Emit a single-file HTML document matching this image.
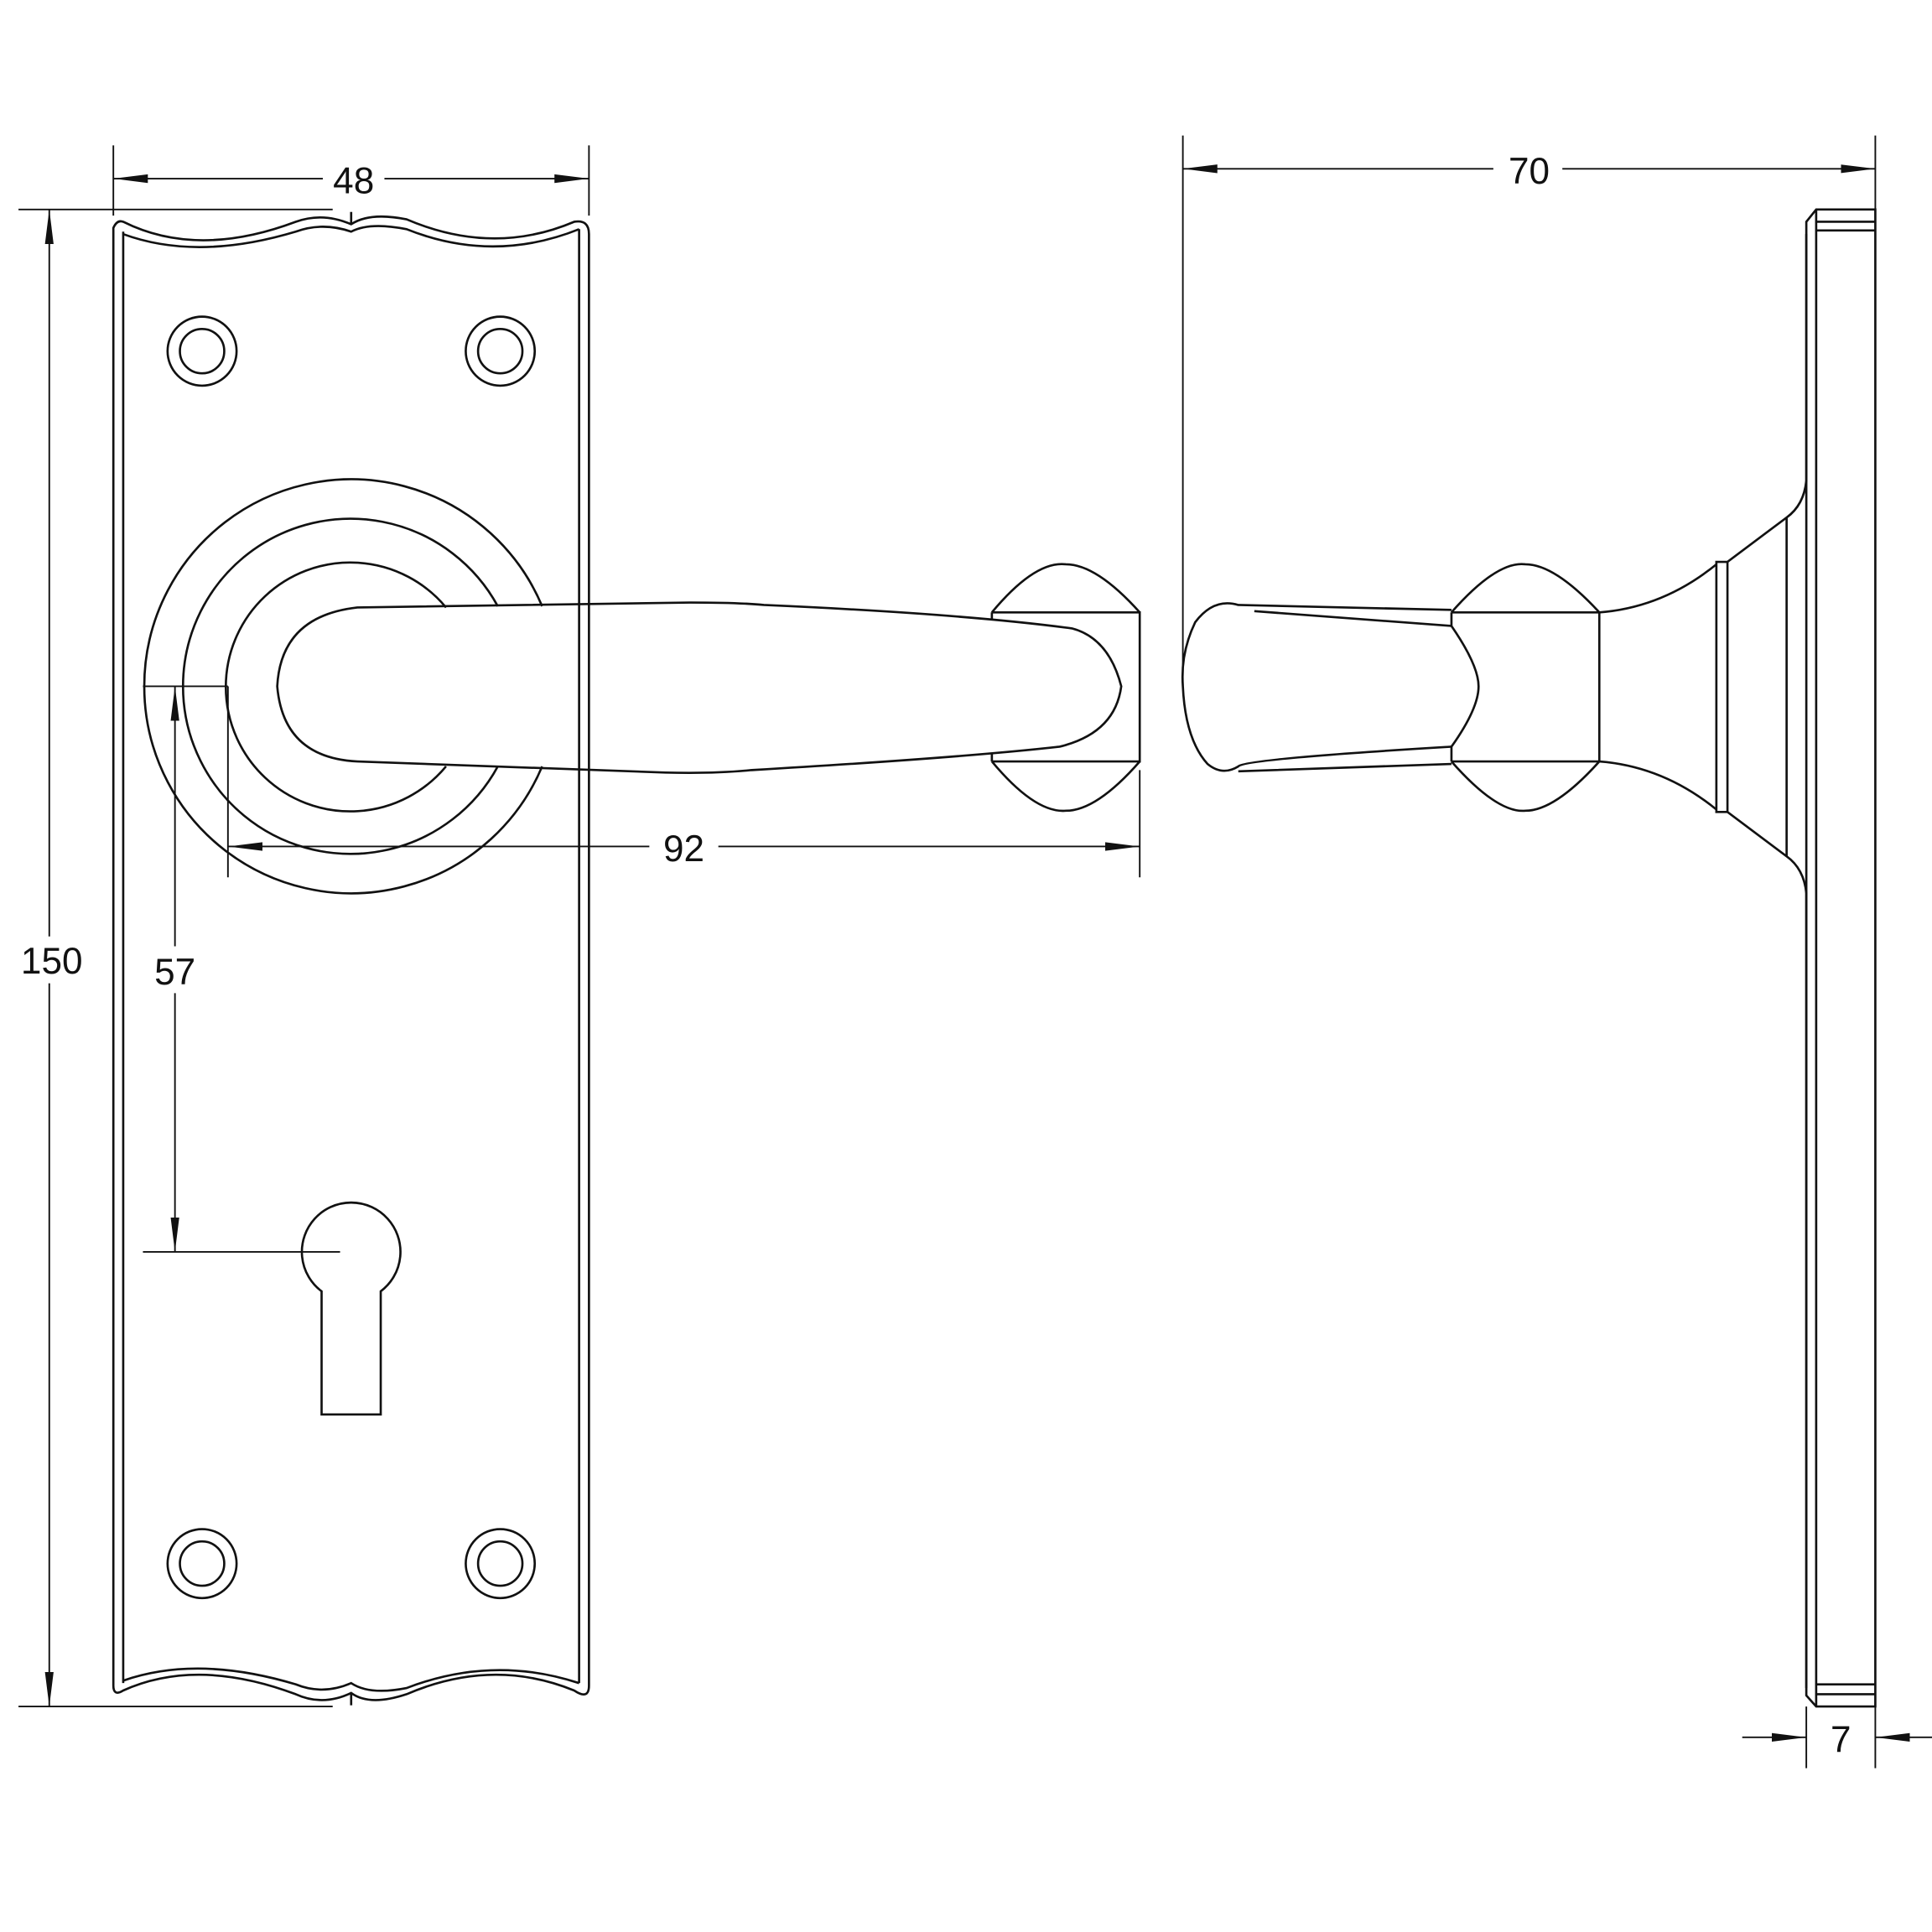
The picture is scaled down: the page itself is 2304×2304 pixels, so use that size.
<!DOCTYPE html>
<html><head><meta charset="utf-8"><style>html,body{margin:0;padding:0;background:#fff}svg{display:block}</style></head>
<body>
<svg width="2304" height="2304" viewBox="0 0 1568 1568" xmlns="http://www.w3.org/2000/svg" font-family="Liberation Sans, sans-serif">
<defs>
<marker id="a" viewBox="0 0 28 8" refX="28" refY="4" markerWidth="28" markerHeight="8" markerUnits="userSpaceOnUse" orient="auto-start-reverse"><path d="M0,0.5 L28,4 L0,7.5 Z" fill="#111"/></marker>
</defs>
<g fill="none" stroke="#111" stroke-width="1.8">
<path d="M92,185 Q95,178 100,180 Q160,210 240,180 Q262,172 285,182 Q300,172 330,178 Q400,208 466,180 Q478,178 478,190 L478,1368 Q478,1380 466,1372 Q400,1345 330,1375 Q300,1385 285,1374 Q262,1385 240,1375 Q160,1345 100,1372 Q92,1377 92,1368 Z"/>
<path d="M100,190 Q160,212 240,188 Q262,180 285,188 Q300,180 330,186 Q400,214 470,186 M100,1364 Q160,1343 240,1367 Q262,1376 285,1366 Q300,1376 330,1370 Q400,1343 470,1366"/>
<line x1="100" y1="188" x2="100" y2="1366"/><line x1="470" y1="186" x2="470" y2="1366"/>
<line x1="285" y1="172" x2="285" y2="182"/><line x1="285" y1="1374" x2="285" y2="1384"/>
<circle cx="164" cy="285" r="28"/><circle cx="164" cy="285" r="18"/>
<circle cx="406" cy="285" r="28"/><circle cx="406" cy="285" r="18"/>
<circle cx="164" cy="1269" r="28"/><circle cx="164" cy="1269" r="18"/>
<circle cx="406" cy="1269" r="28"/><circle cx="406" cy="1269" r="18"/>
<path d="M440,492 A168,168 0 1 0 440,622"/>
<path d="M404,492 A136,136 0 1 0 404,622"/>
<path d="M362,493 A101,101 0 1 0 362,622"/>
<path d="M290,493 L560,489 Q600,489 620,491 Q780,498 870,510 Q900,518 910,557 Q905,595 860,606 Q780,615 610,625 Q580,628 540,627 L290,618 Q230,615 225,557 Q228,500 290,493 Z"/>
<path d="M805,497 L925,497 L925,618 L805,618 M805,497 Q840,455 865,458 Q890,458 925,497 M805,618 Q840,660 865,658 Q890,658 925,618 M805,497 L805,503 M805,618 L805,612"/>
<path d="M261,1048 A40,40 0 1 1 309,1048 L309,1148 L261,1148 Z"/>
<path d="M1466,180 L1474,170 L1522,170 L1522,1385 L1474,1385 L1466,1376 Z"/>
<line x1="1474" y1="170" x2="1474" y2="1385"/>
<line x1="1474" y1="180" x2="1522" y2="180"/><line x1="1474" y1="187" x2="1522" y2="187"/>
<line x1="1474" y1="1367" x2="1522" y2="1367"/><line x1="1474" y1="1375" x2="1522" y2="1375"/>
<path d="M1466,190 L1466,390 Q1464,410 1450,420 L1402,456 L1393,456 L1393,659 L1402,659 L1450,695 Q1464,705 1466,725 L1466,1370"/>
<line x1="1402" y1="456" x2="1402" y2="659"/><line x1="1450" y1="420" x2="1450" y2="695"/>
<path d="M1393,458 Q1350,493 1298,497 M1393,657 Q1350,622 1298,618"/>
<path d="M1178,497 L1298,497 L1298,618 L1178,618 M1178,497 Q1215,455 1238,458 Q1262,458 1298,497 M1178,618 Q1215,660 1238,658 Q1262,658 1298,618"/>
<path d="M1178,497 L1178,508 Q1200,540 1200,557 Q1200,575 1178,606 L1178,618"/>
<path d="M1178,495 L1005,491 Q985,485 970,505 Q958,530 960,557 Q962,600 980,620 Q992,630 1005,622 Q1010,616 1178,606"/>
<path d="M1018,496 Q1100,502 1178,508 M1005,626 L1178,620"/>
</g>
<g stroke="#111" stroke-width="1.3" fill="none">
<line x1="92" y1="118" x2="92" y2="175"/><line x1="478" y1="118" x2="478" y2="175"/>
<line x1="92" y1="145" x2="262" y2="145" marker-start="url(#a)"/><line x1="312" y1="145" x2="478" y2="145" marker-end="url(#a)"/>
<line x1="15" y1="170" x2="270" y2="170"/><line x1="15" y1="1385" x2="270" y2="1385"/>
<line x1="40" y1="170" x2="40" y2="760" marker-start="url(#a)"/><line x1="40" y1="798" x2="40" y2="1385" marker-end="url(#a)"/>
<line x1="185" y1="557" x2="185" y2="712"/><line x1="925" y1="625" x2="925" y2="712"/>
<line x1="185" y1="687" x2="527" y2="687" marker-start="url(#a)"/><line x1="583" y1="687" x2="925" y2="687" marker-end="url(#a)"/>
<line x1="116" y1="557" x2="185" y2="557"/><line x1="116" y1="1016" x2="276" y2="1016"/>
<line x1="142" y1="557" x2="142" y2="768" marker-start="url(#a)"/><line x1="142" y1="806" x2="142" y2="1016" marker-end="url(#a)"/>
<line x1="960" y1="110" x2="960" y2="557"/><line x1="1522" y1="110" x2="1522" y2="170"/>
<line x1="960" y1="137" x2="1212" y2="137" marker-start="url(#a)"/><line x1="1268" y1="137" x2="1522" y2="137" marker-end="url(#a)"/>
<line x1="1466" y1="1385" x2="1466" y2="1435"/><line x1="1522" y1="1385" x2="1522" y2="1435"/>
<line x1="1414" y1="1410" x2="1466" y2="1410" marker-end="url(#a)"/><line x1="1568" y1="1410" x2="1522" y2="1410" marker-end="url(#a)"/>
</g>
<g fill="#111" font-size="30" text-anchor="middle">
<text x="287" y="157">48</text>
<text x="42" y="790">150</text>
<text x="555" y="699">92</text>
<text x="142" y="799">57</text>
<text x="1241" y="149">70</text>
<text x="1494" y="1422">7</text>
</g>
</svg>
</body></html>
